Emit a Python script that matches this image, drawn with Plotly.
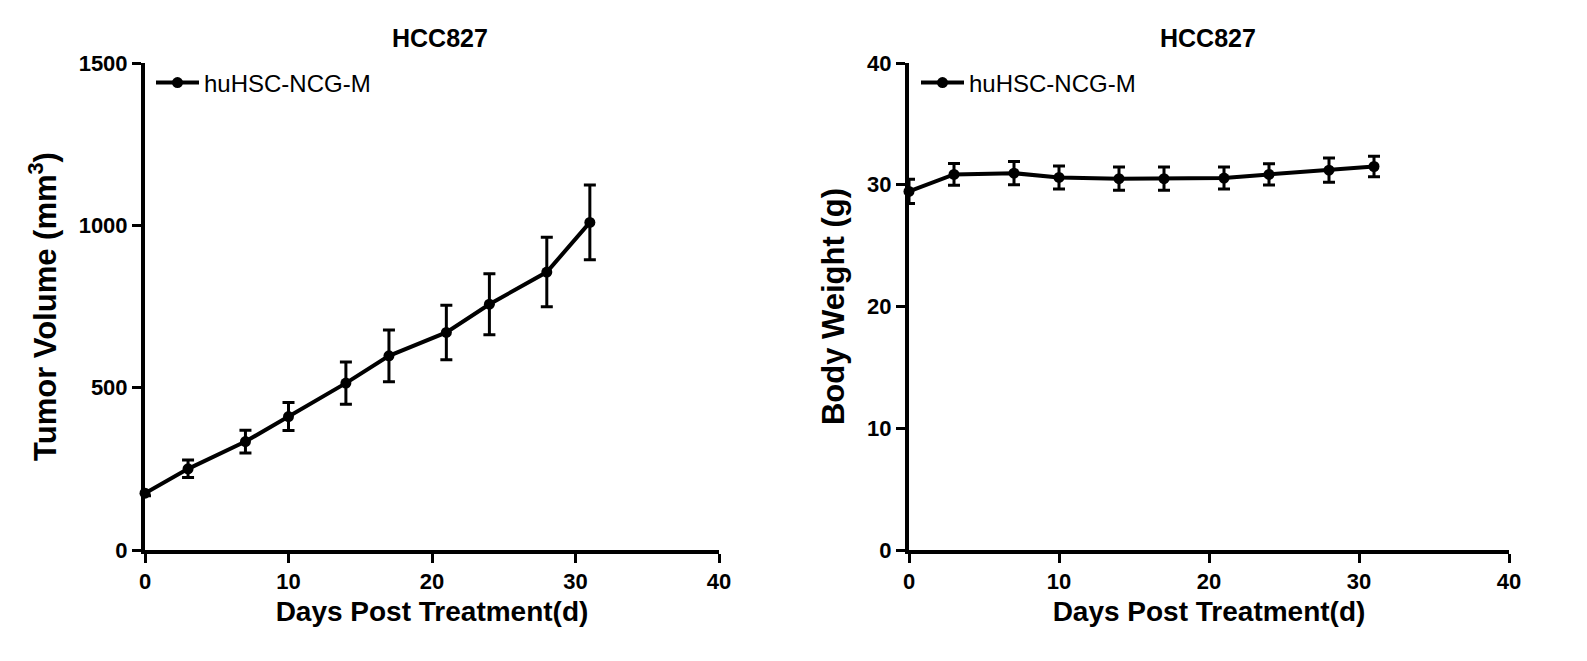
import plotly.graph_objects as go

# ---- data ----
days = [0, 3, 7, 10, 14, 17, 21, 24, 28, 31]
tumor_volume = [175, 250, 334, 411, 514, 598, 670, 757, 856, 1009]
tumor_sem = [8, 27, 35, 43, 65, 80, 84, 94, 107, 115]
body_weight = [29.45, 30.85, 30.95, 30.6, 30.5, 30.5, 30.55, 30.85, 31.2, 31.5]
body_sem = [1.0, 0.9, 0.95, 0.95, 0.95, 0.95, 0.9, 0.88, 1.0, 0.85]
series_name = "huHSC-NCG-M"
panel_title = "HCC827"
x_ticks = [0, 10, 20, 30, 40]
y1_ticks = [0, 500, 1000, 1500]
y2_ticks = [0, 10, 20, 30, 40]

PAGE_W, PAGE_H = 1587, 661
OFF = 8  # default page body margin
W, H = PAGE_W - 2 * OFF, PAGE_H - 2 * OFF
FONT = "Liberation Sans, Arial, sans-serif"

def px_x(p):
    return (p - OFF) / W

def px_y(p):
    return 1 - (p - OFF) / H

line_style = dict(color="black", width=4)
marker_style = dict(color="black", size=11, symbol="circle")

fig = go.Figure()
fig.add_trace(go.Scatter(
    x=days, y=tumor_volume, mode="lines+markers", name=series_name,
    line=line_style, marker=marker_style, cliponaxis=False,
    error_y=dict(type="data", array=tumor_sem, visible=True,
                 color="black", thickness=3, width=6),
    xaxis="x", yaxis="y", legend="legend",
))
fig.add_trace(go.Scatter(
    x=days, y=body_weight, mode="lines+markers", name=series_name,
    line=line_style, marker=marker_style, cliponaxis=False,
    error_y=dict(type="data", array=body_sem, visible=True,
                 color="black", thickness=3, width=6),
    xaxis="x2", yaxis="y2", legend="legend2",
))

axis_common = dict(
    showline=True, linewidth=4, linecolor="black",
    ticks="outside", ticklen=9, tickwidth=3, tickcolor="black",
    showgrid=False, zeroline=False, automargin=False,
    tickfont=dict(family=FONT, size=22, color="black", weight="bold"),
)
xtitle_font = dict(family=FONT, size=28, color="black", weight="bold")
ytitle_font = dict(family=FONT, size=31, color="black", weight="bold")

ydom = [px_y(550), px_y(63)]

fig.update_layout(
    width=W, height=H, autosize=False,
    margin=dict(l=0, r=0, t=0, b=0),
    paper_bgcolor="white", plot_bgcolor="white",
    xaxis=dict(domain=[px_x(145), px_x(719)], range=[0, 40], tickvals=x_ticks,
               anchor="y",
               title=dict(text="Days Post Treatment(d)", font=xtitle_font, standoff=9),
               **axis_common),
    yaxis=dict(domain=ydom, range=[0, 1500], tickvals=y1_ticks, anchor="x",
               title=dict(text="Tumor Volume (mm<sup>3</sup>)", font=ytitle_font, standoff=14),
               **axis_common),
    xaxis2=dict(domain=[px_x(909), px_x(1509)], range=[0, 40], tickvals=x_ticks,
                anchor="y2",
                title=dict(text="Days Post Treatment(d)", font=xtitle_font, standoff=9),
                **axis_common),
    yaxis2=dict(domain=ydom, range=[0, 40], tickvals=y2_ticks, anchor="x2",
                title=dict(text="Body Weight (g)", font=ytitle_font, standoff=14),
                **axis_common),
    legend=dict(x=px_x(151), y=px_y(83), xanchor="left", yanchor="middle",
                bgcolor="rgba(0,0,0,0)", itemwidth=43,
                font=dict(family=FONT, size=24, color="black")),
    legend2=dict(x=px_x(916), y=px_y(83), xanchor="left", yanchor="middle",
                 bgcolor="rgba(0,0,0,0)", itemwidth=43,
                 font=dict(family=FONT, size=24, color="black")),
    showlegend=True,
    annotations=[
        dict(text="<b>" + panel_title + "</b>", x=px_x(440), y=px_y(38),
             xref="paper", yref="paper", showarrow=False,
             xanchor="center", yanchor="middle",
             font=dict(family=FONT, size=25, color="black")),
        dict(text="<b>" + panel_title + "</b>", x=px_x(1208), y=px_y(38),
             xref="paper", yref="paper", showarrow=False,
             xanchor="center", yanchor="middle",
             font=dict(family=FONT, size=25, color="black")),
    ],
)

fig.write_html("out.html")
